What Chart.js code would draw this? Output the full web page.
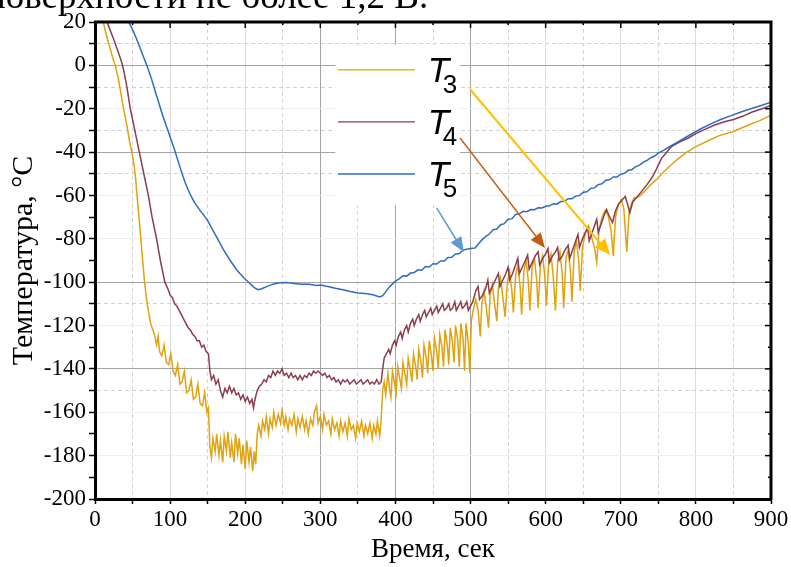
<!DOCTYPE html>
<html lang="ru">
<head>
<meta charset="utf-8">
<title>Температура</title>
<script src="https://cdn.jsdelivr.net/npm/chart.js@4.4.1/dist/chart.umd.min.js"></script>
<style>
  html, body { margin: 0; padding: 0; background: #fff; }
  #marco { position: relative; width: 791px; height: 567px; overflow: hidden; }
  #grafico { position: absolute; left: 0; top: 0; }
  #encabezado {
    position: absolute; left: -14px; top: -23px;
    font: 37px/37px "Liberation Serif", "Times New Roman", serif;
    white-space: nowrap; color: #000;
  }
</style>
</head>
<body>
<div id="marco">
  <canvas id="grafico" width="791" height="567"></canvas>
  <div id="encabezado">поверхности не более 1,2 В.</div>
</div>
<script>
// Datos (tiempo en s, temperatura en °C)
const t3Tiempo = [
  8, 11, 15, 20, 24, 27, 31, 35, 38, 42,
  46, 49, 52, 54, 56, 58, 61, 63, 66, 68,
  70, 72, 74, 76, 79, 82, 84, 86, 89, 92,
  95, 98, 101, 104, 107, 110, 113, 116, 119, 122,
  125, 128, 131, 134, 137, 140, 143, 146, 149, 151,
  153, 155, 157, 160, 162, 165, 167, 170, 172, 175,
  177, 180, 182, 185, 187, 190, 192, 195, 197, 200,
  202, 205, 207, 210, 212, 214, 216, 218, 221, 223,
  226, 228, 231, 233, 236, 238, 241, 244, 247, 249,
  252, 254, 257, 259, 262, 265, 268, 270, 273, 276,
  279, 281, 284, 287, 290, 292, 295, 297, 300, 303,
  305, 308, 311, 314, 316, 319, 322, 325, 327, 330,
  333, 336, 338, 341, 344, 347, 349, 352, 355, 358,
  360, 363, 366, 369, 371, 374, 376, 379, 381, 383,
  385, 387, 390, 392, 394, 396, 399, 401, 403, 406,
  408, 410, 413, 415, 417, 420, 422, 424, 427, 429,
  431, 434, 436, 438, 441, 443, 445, 448, 450, 452,
  455, 457, 459, 462, 464, 466, 469, 471, 473, 476,
  478, 480, 483, 485, 487, 490, 492, 494, 497, 499,
  501, 504, 507, 510, 513, 515, 518, 521, 524, 526,
  529, 532, 535, 537, 540, 543, 546, 549, 552, 555,
  557, 560, 563, 566, 568, 571, 574, 577, 579, 582,
  585, 588, 590, 593, 596, 599, 601, 604, 607, 610,
  613, 616, 619, 622, 624, 627, 630, 633, 635, 638,
  641, 644, 646, 649, 653, 657, 661, 665, 668, 671,
  675, 679, 683, 687, 690, 693, 697, 701, 704, 708,
  711, 714, 718, 722, 726, 732, 740, 748, 756, 765,
  775, 788, 800, 815, 830, 850, 870, 885, 900
];
const t3Temp = [
  24, 20, 14, 8, 3, 0, -6, -14, -20, -27,
  -35, -40, -46, -52, -60, -68, -80, -88, -100, -106,
  -111, -115, -119, -121, -124, -129, -125, -132, -134, -129,
  -137, -138, -133, -141, -143, -138, -147, -146, -141, -151,
  -150, -145, -154, -153, -147, -156, -157, -151, -160, -158,
  -176, -181, -172, -178, -170, -180, -173, -183, -171, -178,
  -169, -181, -174, -183, -170, -179, -172, -184, -175, -186,
  -173, -183, -176, -187, -178, -184, -170, -166, -171, -164,
  -168, -162, -170, -163, -167, -160, -166, -161, -165, -159,
  -166, -162, -168, -163, -166, -161, -169, -163, -167, -162,
  -168, -164, -170, -163, -166, -160, -157, -165, -162, -168,
  -161, -166, -164, -170, -163, -168, -165, -171, -164, -169,
  -165, -171, -163, -168, -166, -172, -165, -169, -164, -171,
  -166, -170, -165, -172, -166, -170, -164, -171, -163, -150,
  -146, -152, -142, -149, -153, -141, -147, -151, -139, -145,
  -149, -137, -143, -147, -135, -141, -146, -133, -139, -145,
  -131, -137, -144, -129, -135, -142, -127, -134, -141, -126,
  -132, -140, -124, -130, -139, -122, -129, -138, -121, -128,
  -137, -120, -127, -139, -119, -126, -141, -119, -128, -142,
  -118, -112, -108, -113, -125, -110, -104, -112, -121, -106,
  -101, -110, -118, -103, -98, -107, -116, -100, -95, -104,
  -114, -97, -92, -102, -115, -95, -90, -100, -113, -93,
  -89, -99, -112, -92, -88, -98, -111, -91, -87, -97,
  -113, -90, -86, -96, -112, -89, -85, -95, -109, -86,
  -81, -90, -104, -84, -77, -74, -79, -84, -91, -76,
  -70, -67, -69, -76, -88, -70, -64, -62, -66, -86,
  -68, -64, -61, -61, -60, -58, -55, -52.5, -49.5, -46.5,
  -43.5, -40, -37.5, -35, -32.5, -30.5, -27.5, -25.5, -23
];

const t4Tiempo = [
  5, 16, 21, 26, 31, 35, 38, 42, 47, 53,
  59, 65, 71, 76, 82, 87, 93, 97, 100, 103,
  106, 109, 112, 115, 118, 121, 124, 127, 130, 133,
  136, 139, 142, 145, 148, 151, 153, 155, 158, 161,
  164, 167, 170, 173, 176, 179, 182, 185, 188, 191,
  194, 197, 200, 203, 206, 209, 211, 213, 216, 219,
  222, 225, 228, 231, 234, 237, 240, 243, 246, 249,
  252, 255, 258, 261, 264, 267, 270, 273, 276, 279,
  282, 285, 288, 291, 294, 297, 300, 303, 306, 309,
  312, 315, 318, 321, 324, 327, 330, 333, 336, 339,
  342, 345, 348, 351, 354, 357, 360, 363, 366, 369,
  372, 375, 378, 381, 383, 385, 388, 391, 393, 396,
  399, 401, 404, 407, 409, 412, 415, 417, 420, 423,
  425, 428, 431, 433, 436, 439, 441, 444, 447, 449,
  452, 455, 457, 460, 463, 465, 468, 471, 473, 476,
  479, 481, 484, 487, 489, 492, 495, 497, 500, 503,
  507, 510, 512, 516, 520, 523, 525, 529, 533, 537,
  539, 543, 547, 550, 552, 556, 560, 563, 565, 569,
  573, 576, 578, 582, 586, 590, 592, 596, 600, 603,
  605, 609, 613, 616, 618, 622, 626, 630, 632, 636,
  640, 643, 645, 649, 653, 656, 658, 662, 665, 668,
  670, 674, 678, 681, 684, 689, 693, 697, 702, 706,
  709, 712, 716, 721, 728, 735, 742, 748, 754, 760,
  766, 772, 780, 790, 800, 812, 825, 838, 850, 862,
  875, 888, 900
];
const t4Temp = [
  30, 20, 15.5, 11, 6, 2, -2, -9, -20, -30,
  -40, -50, -60, -70, -80, -90, -100, -103, -106, -107,
  -110, -111, -113, -115, -117, -119, -121, -122, -124, -125,
  -127, -127, -130, -129, -132, -133, -141, -145, -143, -147,
  -145, -150, -153, -149, -151, -148, -151, -149, -152, -151,
  -154, -152, -155, -153, -156, -154, -158, -154, -150, -148,
  -147, -145, -146, -143, -144, -141, -143, -141, -142, -140,
  -143, -142, -144, -142, -144, -143, -145, -143, -145, -143,
  -144, -142, -143, -141, -142, -141, -142, -143, -142, -144,
  -143, -145, -144, -146, -145, -147, -145, -146, -145, -147,
  -146, -145, -147, -146, -145, -147, -146, -145, -147, -146,
  -147, -145, -147, -146, -140, -135, -133, -131, -133, -129,
  -127, -129, -125, -123, -126, -122, -120, -123, -119, -117,
  -120, -117, -115, -118, -115, -113, -116, -114, -112, -115,
  -113, -111, -114, -112, -110, -113, -112, -110, -113, -112,
  -109, -113, -111, -109, -112, -111, -109, -113, -111, -109,
  -104, -102, -108, -106, -103, -99, -105, -102, -99, -96,
  -102, -99, -96, -93, -99, -96, -92, -89, -96, -93,
  -90, -87.5, -94, -91, -88, -86, -92, -89, -87, -84.5,
  -91, -88, -86, -84, -90, -88, -85, -83, -89, -85,
  -81, -78, -84, -80, -77, -75, -81, -77, -74, -71,
  -77, -73, -69, -66.5, -69, -72.5, -67, -64, -62, -60.5,
  -64, -68, -63, -61, -58, -55, -51.5, -47.5, -43, -40.5,
  -38, -36.5, -35, -33.5, -31.5, -29.5, -27.5, -26, -25, -23.5,
  -21.5, -20, -18.5
];

const t5Tiempo = [
  40, 45, 50, 55, 60, 65, 69, 75, 82, 90,
  98, 106, 115, 120, 126, 132, 140, 149, 160, 171,
  180, 189, 198, 206, 212, 217, 222, 230, 238, 246,
  255, 265, 275, 285, 295, 300, 310, 320, 330, 340,
  350, 360, 370, 379, 383, 388, 393, 400, 405, 410,
  415, 420, 425, 430, 435, 440, 445, 450, 455, 460,
  465, 470, 475, 480, 485, 490, 495, 500, 506, 510,
  515, 520, 525, 530, 535, 540, 545, 550, 555, 560,
  565, 570, 575, 580, 585, 590, 595, 600, 605, 610,
  615, 620, 625, 630, 635, 640, 645, 650, 655, 660,
  665, 670, 675, 680, 685, 690, 695, 700, 705, 710,
  715, 720, 725, 730, 735, 740, 745, 750, 758, 766,
  775, 785, 796, 808, 820, 833, 846, 860, 873, 887,
  900
];
const t5Temp = [
  26, 20, 16.5, 12.5, 8, 3.5, 0, -6, -14, -23,
  -31, -39, -49, -54, -59, -63, -67, -71, -78, -85,
  -90, -94.5, -98, -100.5, -102.5, -103.5, -103, -101.8, -100.8, -100.3,
  -100.2, -100.6, -101, -101, -101.5, -101.3, -102, -102.8, -103.5, -104.3,
  -105, -105.2, -105.8, -106.8, -106.2, -104, -101.8, -99.5, -98.5, -97,
  -97.2, -95.8, -95.5, -94.3, -94.5, -92.8, -93, -91.5, -91.6, -90.2,
  -90.2, -88.6, -88.5, -87, -86.8, -85.2, -84.8, -84.5, -84.2, -82.5,
  -80.5, -79, -77.8, -75.8, -75.5, -73.5, -73, -71, -70.8, -68.8,
  -68.5, -67.3, -67.5, -66.5, -66.6, -65.7, -65.8, -65, -64.8, -63.8,
  -64, -62.8, -62.7, -61.5, -61.5, -60.3, -60, -58.5, -58.3, -56.8,
  -56.5, -55, -54.6, -53, -52.8, -51.5, -51.5, -50.2, -49.8, -48.4,
  -48, -46.7, -46, -44.6, -43.8, -42.6, -41.8, -40.5, -39, -37.3,
  -35.5, -33.5, -31.3, -29, -27, -25, -23.3, -21.5, -20, -18.5,
  -17
];

const nombresSeries = ["3", "4", "5"];
const coloresSeries = ["#E0A20E", "#8A3E4E", "#2F6BC6"];

// Rejilla: líneas que se ven en la figura
const rejillaXOscura = [300, 400, 500];
const rejillaYOscura = [0, -40, -100, -140];
const rejillaYPunteada = [10, -10, -30, -50, -110, -150];

// Leyenda y flechas en coordenadas de datos
const cajaLeyenda = { x0: 320, x1: 486, y0: 9.4, y1: -64.4 };
const leyendaX = [323.5, 426, 443];
const leyendaY = [-2.1, -26.1, -50.1];
const flechas = [
  { desde: [499, -10.9], hasta: [686, -87.5], color: "#FFC000", ancho: 2, cabeza: 16 },
  { desde: [486, -33.5], hasta: [599, -84.2], color: "#C55A11", ancho: 1.4, cabeza: 15 },
  { desde: [455, -65.8], hasta: [491, -86.1], color: "#5B9BD5", ancho: 1.5, cabeza: 15 }
];

const fuenteSerif = "'Liberation Serif', 'Times New Roman', serif";

function aPuntos(tiempos, temps) {
  return tiempos.map((t, i) => ({ x: t, y: temps[i] }));
}

function dibujarFlecha(ctx, x1, y1, x2, y2, color, ancho, largo) {
  const ang = Math.atan2(y2 - y1, x2 - x1);
  const bx = x2 - largo * Math.cos(ang);
  const by = y2 - largo * Math.sin(ang);
  const semi = largo * 0.42;
  ctx.save();
  ctx.strokeStyle = color;
  ctx.fillStyle = color;
  ctx.lineWidth = ancho;
  ctx.beginPath();
  ctx.moveTo(x1, y1);
  ctx.lineTo(bx, by);
  ctx.stroke();
  ctx.beginPath();
  ctx.moveTo(x2, y2);
  ctx.lineTo(bx + semi * Math.sin(ang), by - semi * Math.cos(ang));
  ctx.lineTo(bx - semi * Math.sin(ang), by + semi * Math.cos(ang));
  ctx.closePath();
  ctx.fill();
  ctx.restore();
}

const extras = {
  id: "extras",
  beforeDatasetsDraw(chart) {
    const { ctx, scales: { x, y } } = chart;
    const l = x.getPixelForValue(cajaLeyenda.x0);
    const r = x.getPixelForValue(cajaLeyenda.x1);
    const t = y.getPixelForValue(cajaLeyenda.y0);
    const b = y.getPixelForValue(cajaLeyenda.y1);
    ctx.save();
    ctx.fillStyle = "#fff";
    ctx.fillRect(l, t, r - l, b - t);
    ctx.restore();
  },
  afterDatasetsDraw(chart) {
    const { ctx, chartArea: a, scales: { x, y } } = chart;

    // leyenda
    nombresSeries.forEach((n, i) => {
      const py = y.getPixelForValue(leyendaY[i]);
      ctx.save();
      ctx.strokeStyle = coloresSeries[i];
      ctx.lineWidth = 1.3;
      ctx.beginPath();
      ctx.moveTo(x.getPixelForValue(leyendaX[0]), py);
      ctx.lineTo(x.getPixelForValue(leyendaX[1]), py);
      ctx.stroke();
      const tx = x.getPixelForValue(leyendaX[2]);
      ctx.fillStyle = "#000";
      ctx.textBaseline = "alphabetic";
      ctx.font = "italic 35px 'Liberation Sans', Arial, sans-serif";
      ctx.fillText("T", tx, py + 12);
      ctx.font = "26px 'Liberation Sans', Arial, sans-serif";
      ctx.fillText(n, tx + 15, py + 23);
      ctx.restore();
    });

    // flechas
    flechas.forEach(f => {
      dibujarFlecha(ctx,
        x.getPixelForValue(f.desde[0]), y.getPixelForValue(f.desde[1]),
        x.getPixelForValue(f.hasta[0]), y.getPixelForValue(f.hasta[1]),
        f.color, f.ancho, f.cabeza);
    });

    // marco superior y derecho con marcas hacia dentro
    ctx.save();
    ctx.strokeStyle = "#000";
    ctx.lineWidth = 3;
    ctx.beginPath();
    ctx.moveTo(a.left - 1, a.top);
    ctx.lineTo(a.right, a.top);
    ctx.lineTo(a.right, a.bottom + 1);
    ctx.stroke();
    ctx.lineWidth = 1.5;
    x.ticks.forEach(tk => {
      const px = x.getPixelForValue(tk.value);
      const largo = tk.value % 100 === 0 ? 6 : 3;
      ctx.beginPath();
      ctx.moveTo(px, a.top);
      ctx.lineTo(px, a.top + largo);
      ctx.stroke();
    });
    y.ticks.forEach(tk => {
      const py = y.getPixelForValue(tk.value);
      const largo = tk.value % 20 === 0 ? 6 : 3;
      ctx.beginPath();
      ctx.moveTo(a.right, py);
      ctx.lineTo(a.right - largo, py);
      ctx.stroke();
    });
    ctx.restore();
  }
};

function colorX(c) {
  if (!c.tick) return "rgba(0,0,0,0)";
  const v = c.tick.value;
  if (rejillaXOscura.includes(v)) return "#a3a3a3";
  if (v % 100 === 0) return "#dcdcdc";
  return "#d4d4d4";
}
function rayaX(c) {
  if (!c.tick) return [];
  return c.tick.value % 100 === 0 ? [] : [4, 3];
}
function colorY(c) {
  if (!c.tick) return "rgba(0,0,0,0)";
  const v = c.tick.value;
  if (rejillaYOscura.includes(v)) return "#a3a3a3";
  if (rejillaYPunteada.includes(v)) return "#d2d2d2";
  if (v % 20 === 0) return "#efefef";
  return "rgba(0,0,0,0)";
}
function rayaY(c) {
  if (!c.tick) return [];
  return rejillaYPunteada.includes(c.tick.value) ? [4, 3] : [];
}

const series = [
  { n: 2, tiempos: t5Tiempo, temps: t5Temp, orden: 1 },
  { n: 1, tiempos: t4Tiempo, temps: t4Temp, orden: 2 },
  { n: 0, tiempos: t3Tiempo, temps: t3Temp, orden: 3 }
];

new Chart(document.getElementById("grafico"), {
  type: "line",
  data: {
    datasets: series.map(s => ({
      label: "T" + nombresSeries[s.n],
      data: aPuntos(s.tiempos, s.temps),
      borderColor: coloresSeries[s.n],
      borderWidth: 1.5,
      pointRadius: 0,
      tension: 0,
      order: s.orden
    }))
  },
  options: {
    responsive: false,
    animation: false,
    devicePixelRatio: 1,
    layout: { padding: { top: 22, right: 20, left: 0, bottom: 0 } },
    plugins: { legend: { display: false }, tooltip: { enabled: false } },
    scales: {
      x: {
        type: "linear",
        min: 0,
        max: 900,
        afterFit: s => { s.height = 68; },
        ticks: {
          stepSize: 50,
          autoSkip: false,
          maxRotation: 0,
          padding: 2,
          color: "#000",
          font: { family: fuenteSerif, size: 23 },
          callback: v => (v % 100 === 0 ? String(v) : "")
        },
        grid: { color: colorX, lineWidth: 1, tickColor: "#000", tickLength: 5, tickWidth: 1.5 },
        border: { color: "#000", width: 3, dash: rayaX },
        title: {
          display: true,
          text: "Время, сек",
          color: "#000",
          font: { family: fuenteSerif, size: 27 },
          padding: { top: 0, bottom: 1 }
        }
      },
      y: {
        min: -200,
        max: 20,
        afterFit: s => { s.width = 95; },
        ticks: {
          stepSize: 10,
          autoSkip: false,
          padding: 3,
          color: "#000",
          font: { family: fuenteSerif, size: 23 },
          callback: v => (v % 20 === 0 ? String(v) : "")
        },
        grid: { color: colorY, lineWidth: 1, tickColor: "#000", tickLength: 6, tickWidth: 1.5 },
        border: { color: "#000", width: 3, dash: rayaY },
        title: {
          display: true,
          text: "Температура, °C",
          color: "#000",
          font: { family: fuenteSerif, size: 30 },
          padding: { top: 6, bottom: 0 }
        }
      }
    }
  },
  plugins: [extras]
});
</script>
</body>
</html>
